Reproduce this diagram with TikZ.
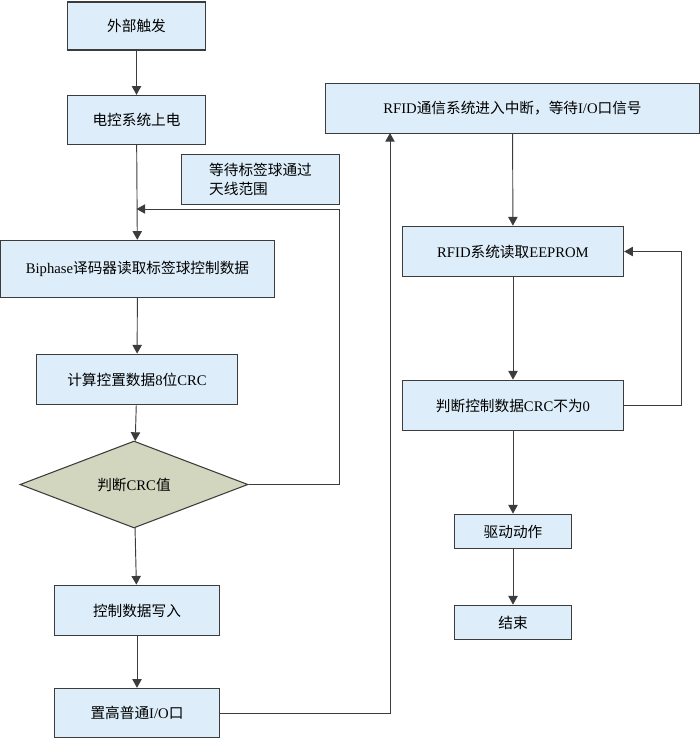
\documentclass[tikz,border=0pt]{standalone}
\usepackage{fontspec}
\setmainfont{Liberation Serif}
\newfontfamily\cjk{Noto Sans CJK SC}
\usetikzlibrary{shapes.geometric,arrows.meta}
\definecolor{fondbleu}{RGB}{221,238,250}
\definecolor{fondtest}{RGB}{211,214,190}
\definecolor{trait}{RGB}{60,60,60}
\newcommand{\zh}[1]{{\cjk #1}}

\begin{document}
\begin{tikzpicture}[x=0.75pt,y=-0.75pt]
\tikzstyle{lien}=[->,>={Triangle[length=6.5pt,width=7pt]},draw=trait,line width=0.7pt]
\tikzset{etape/.style={draw=trait,line width=0.8pt,fill=#1,inner sep=2pt,
  font=\fontsize{11}{14}\selectfont},
etape/.default={fondbleu}}
\tikzset{test/.style={etape=fondtest,diamond,inner sep=0pt,
  minimum width=171pt,minimum height=65pt}}
\useasboundingbox (0,0) rectangle (700,740);

% colonne gauche
\node[etape,minimum width=103pt,minimum height=36pt] (A) at (136.5,26) {\zh{外部触发}};
\node[etape,minimum width=103pt,minimum height=37pt] (B) at (136.5,120) {\zh{电控系统上电}};
\node[etape,minimum width=119pt,minimum height=37pt,align=left] (W) at (260.5,179.5) {\zh{等待标签球通过}\\\zh{天线范围}};
\node[etape,minimum width=205pt,minimum height=43pt] (C) at (137.5,269) {Biphase\zh{译码器读取标签球控制数据}};
\node[etape,minimum width=151pt,minimum height=38pt] (D) at (137,379.5) {\zh{计算控置数据}8\zh{位}CRC};
\node[test] (E) at (134,484.5) {\zh{判断}CRC\zh{值}};
\node[etape,minimum width=124pt,minimum height=38pt] (F) at (137,610.5) {\zh{控制数据写入}};
\node[etape,minimum width=124pt,minimum height=37pt] (G) at (137,713) {\zh{置高普通}I/O\zh{口}};

% colonne droite
\node[etape,minimum width=280pt,minimum height=37pt] (H) at (512.5,108.5) {RFID\zh{通信系统进入中断，等待}I/O\zh{口信号}};
\node[etape,minimum width=166pt,minimum height=38pt] (I) at (513,251.5) {RFID\zh{系统读取}EEPROM};
\node[etape,minimum width=166pt,minimum height=38pt] (J) at (513,405.5) {\zh{判断控制数据}CRC\zh{不为}0};
\node[etape,minimum width=88pt,minimum height=26pt] (K) at (513,531.5) {\zh{驱动动作}};
\node[etape,minimum width=88pt,minimum height=26pt] (L) at (513,622.5) {\zh{结束}};

\coordinate (m) at (136.5,209);
\coordinate (r) at (339,209);
\coordinate (q) at (390,133);

\draw[lien] (A) -- (B);
\draw[lien] (B) -- (C);
\draw[lien] (C) -- (D);
\draw[lien] (D) -- (E);
\draw[lien] (E) -- (F);
\draw[lien] (F) -- (G);
\draw[lien] (E.east) -| (r) -- (m);
\draw[lien] (G.east) -| (q);

\draw[lien] (H) -- (I);
\draw[lien] (I) -- (J);
\draw[lien] (J.east) -- ++(57,0) |- (I.east);
\draw[lien] (J) -- (K);
\draw[lien] (K) -- (L);

\end{tikzpicture}
\end{document}
